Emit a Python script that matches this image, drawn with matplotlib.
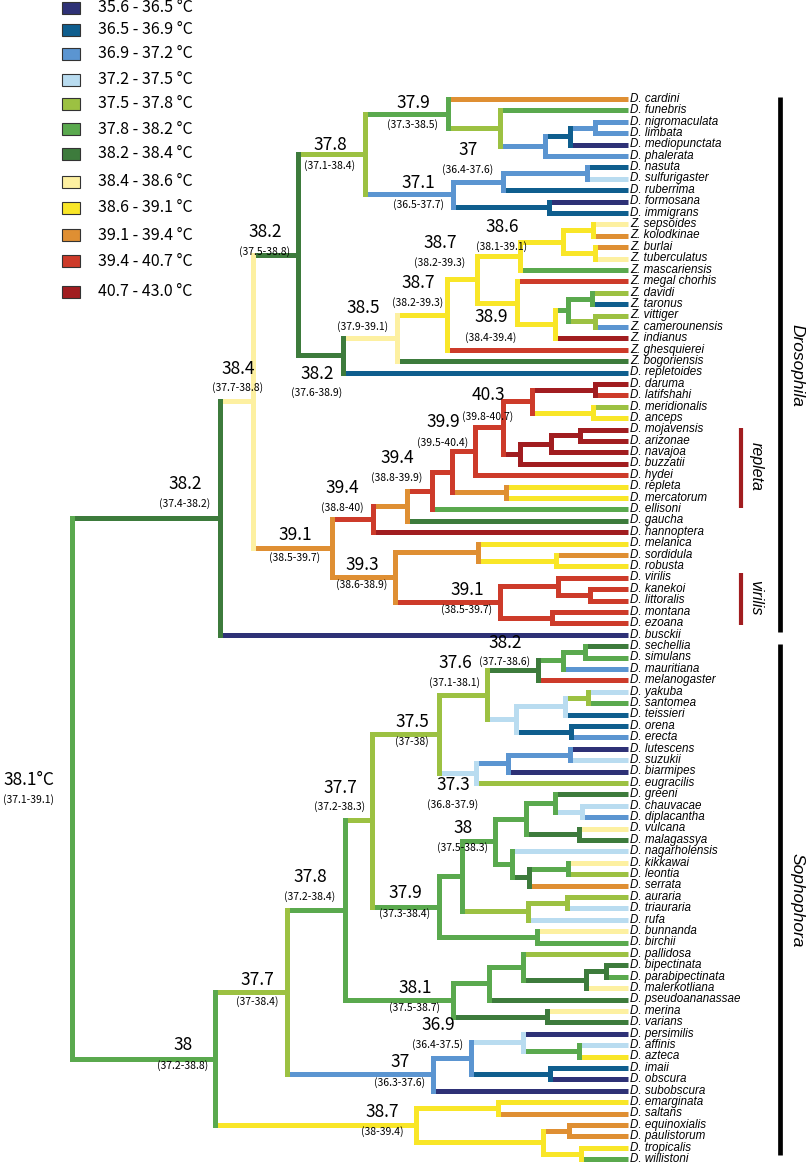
import matplotlib
matplotlib.use("Agg")
import matplotlib.pyplot as plt
from matplotlib.patches import Rectangle

# ---- temperature classes (legend) ----
class_labels = ["35.6 - 36.5 °C", "36.5 - 36.9 °C", "36.9 - 37.2 °C", "37.2 - 37.5 °C",
                "37.5 - 37.8 °C", "37.8 - 38.2 °C", "38.2 - 38.4 °C", "38.4 - 38.6 °C",
                "38.6 - 39.1 °C", "39.1 - 39.4 °C", "39.4 - 40.7 °C", "40.7 - 43.0 °C"]
class_colors = ["#2e3176", "#0f5e8e", "#5b95d1", "#b9dcf0", "#9cc142", "#5aa94e",
                "#3d7b3c", "#fdf0a1", "#f9e628", "#df8f33", "#cd3b2a", "#a11d20"]

# ---- tips (top to bottom) and their class ----
tip_names = ["D. cardini", "D. funebris", "D. nigromaculata", "D. limbata", "D. mediopunctata",
             "D. phalerata", "D. nasuta", "D. sulfurigaster", "D. ruberrima", "D. formosana",
             "D. immigrans", "Z. sepsoides", "Z. kolodkinae", "Z. burlai", "Z. tuberculatus",
             "Z. mascariensis", "Z. megal chorhis", "Z. davidi", "Z. taronus", "Z. vittiger",
             "Z. camerounensis", "Z. indianus", "Z. ghesquierei", "Z. bogoriensis", "D. repletoides",
             "D. daruma", "D. latifshahi", "D. meridionalis", "D. anceps", "D. mojavensis",
             "D. arizonae", "D. navajoa", "D. buzzatii", "D. hydei", "D. repleta",
             "D. mercatorum", "D. ellisoni", "D. gaucha", "D. hannoptera", "D. melanica",
             "D. sordidula", "D. robusta", "D. virilis", "D. kanekoi", "D. littoralis",
             "D. montana", "D. ezoana", "D. busckii", "D. sechellia", "D. simulans",
             "D. mauritiana", "D. melanogaster", "D. yakuba", "D. santomea", "D. teissieri",
             "D. orena", "D. erecta", "D. lutescens", "D. suzukii", "D. biarmipes",
             "D. eugracilis", "D. greeni", "D. chauvacae", "D. diplacantha", "D. vulcana",
             "D. malagassya", "D. nagarholensis", "D. kikkawai", "D. leontia", "D. serrata",
             "D. auraria", "D. triauraria", "D. rufa", "D. bunnanda", "D. birchii",
             "D. pallidosa", "D. bipectinata", "D. parabipectinata", "D. malerkotliana",
             "D. pseudoananassae", "D. merina", "D. varians", "D. persimilis", "D. affinis",
             "D. azteca", "D. imaii", "D. obscura", "D. subobscura", "D. emarginata",
             "D. saltans", "D. equinoxialis", "D. paulistorum", "D. tropicalis", "D. willistoni"]
tip_class = [9, 5, 2, 2, 0, 2, 1, 3, 1, 0, 1, 7, 9, 9, 7, 5, 10, 4, 1, 4, 2, 11, 10, 6, 1,
             11, 10, 4, 8, 11, 11, 11, 11, 10, 8, 8, 5, 6, 11, 8, 9, 8, 10, 10, 10, 10, 10, 0,
             6, 5, 2, 10, 3, 5, 1, 1, 2, 0, 3, 0, 4, 6, 3, 2, 7, 6, 3, 7, 4, 9, 4, 3, 3, 7, 5,
             4, 6, 5, 7, 6, 7, 6, 0, 3, 8, 1, 0, 0, 8, 9, 9, 9, 8, 5]

# ---- topology (newick, internal nodes named) ----
n378 = ("((cardini,(funebris,(((nigromaculata,limbata)I,mediopunctata)H,phalerata)G)F)n379,"
        "(((nasuta,sulfurigaster)L,ruberrima)J,(formosana,immigrans)K)n371)n378")
n382b = ("(((((((sepsoides,kolodkinae)zs1,(burlai,tuberculatus)zs2)zs,mascariensis)n386,"
         "(megal_chorhis,(((davidi,taronus)zd1,(vittiger,camerounensis)zd2)zd,indianus)ze)n389)n387a,"
         "ghesquierei)n387b,bogoriensis)n385,repletoides)n382b")
clade_T = ("((((((((daruma,latifshahi)m1,(meridionalis,anceps)m2)M,"
           "(((mojavensis,arizonae)n2,navajoa)n1,buzzatii)N)n403,hydei)n399,"
           "(repleta,mercatorum)Q)P,ellisoni)R,gaucha)S,hannoptera)T")
n393 = ("((melanica,(sordidula,robusta)W)U,"
        "((virilis,(kanekoi,littoralis)Y)X,(montana,ezoana)Z)V)n393")
n382c = f"((({n378},{n382b})n382a,({clade_T},{n393})n391)n384,busckii)n382c"

n376 = ("((((sechellia,simulans)s1,mauritiana)s2,melanogaster)n382d,"
        "(((yakuba,santomea)AD,teissieri)AB,(orena,erecta)AC)AA)n376")
n373 = "(((lutescens,suzukii)AF,biarmipes)AE,eugracilis)n373"
AH = ("(((greeni,(chauvacae,diplacantha)AM)AL,(vulcana,malagassya)AN)AJ,"
      "(nagarholensis,((kikkawai,leontia)AP,serrata)AO)AK)AH")
AI = "((auraria,triauraria)AQ,rufa)AI"
n379b = f"(({AH},{AI})n380,(bunnanda,birchii)AG)n379b"
n381 = ("(((pallidosa,((bipectinata,parabipectinata)BE,malerkotliana)BD)BC,pseudoananassae)BA,"
        "(merina,varians)BB)n381")
n370 = "(((persimilis,(affinis,azteca)CB)CA,(imaii,obscura)CC)n369,subobscura)n370"
n387c = "((emarginata,saltans)DA,((equinoxialis,paulistorum)DC,(tropicalis,willistoni)DD)DB)n387c"
n380b = f"((((({n376},{n373})n375,{n379b})n377a,{n381})n378b,{n370})n377b,{n387c})n380b"
newick = f"({n382c},{n380b})root;"

# depth of each internal node (pixels from the left)
node_x = {"root": 72, "n382c": 220, "n384": 253, "n382a": 298, "n378": 365, "n379": 448,
          "F": 500, "G": 545, "H": 570, "I": 595, "n371": 453, "J": 503, "L": 587, "K": 549,
          "n382b": 343, "n385": 397, "n387b": 447, "n387a": 477, "n386": 520, "zs": 563,
          "zs1": 593, "zs2": 595, "n389": 517, "ze": 555, "zd": 568, "zd1": 592, "zd2": 595,
          "n391": 332, "T": 373, "S": 407, "R": 432, "P": 452, "Q": 506, "n399": 475,
          "n403": 503, "M": 532, "m1": 595, "m2": 593, "N": 520, "n1": 551, "n2": 580,
          "n393": 395, "U": 478, "W": 556, "V": 500, "X": 558, "Y": 590, "Z": 552,
          "n380b": 215, "n377b": 287, "n378b": 345, "n377a": 372, "n375": 439, "n376": 487,
          "n382d": 538, "s2": 563, "s1": 585, "AA": 516, "AB": 565, "AD": 588, "AC": 571,
          "n373": 476, "AE": 508, "AF": 570, "n379b": 439, "n380": 462, "AH": 495, "AJ": 526,
          "AL": 555, "AM": 582, "AN": 579, "AK": 512, "AO": 529, "AP": 568, "AI": 528,
          "AQ": 567, "AG": 537, "n381": 453, "BA": 489, "BC": 523, "BD": 586, "BE": 606,
          "BB": 547, "n370": 433, "n369": 471, "CA": 523, "CB": 579, "CC": 550,
          "n387c": 416, "DA": 498, "DB": 543, "DC": 569, "DD": 581}

# reconstructed class of each internal node
node_class = {"root": 5, "n382c": 6, "n384": 7, "n382a": 6, "n378": 4, "n379": 5, "F": 4,
              "G": 2, "H": 1, "I": 2, "n371": 2, "J": 2, "L": 2, "K": 1, "n382b": 6,
              "n385": 7, "n387b": 8, "n387a": 8, "n386": 8, "zs": 8, "zs1": 8, "zs2": 8,
              "n389": 8, "ze": 8, "zd": 5, "zd1": 5, "zd2": 4, "n391": 9, "T": 10, "S": 9,
              "R": 10, "P": 10, "Q": 9, "n399": 10, "n403": 10, "M": 10, "m1": 11, "m2": 8,
              "N": 11, "n1": 11, "n2": 11, "n393": 9, "U": 9, "W": 8, "V": 10, "X": 10,
              "Y": 10, "Z": 10, "n380b": 5, "n377b": 4, "n378b": 5, "n377a": 4, "n375": 4,
              "n376": 4, "n382d": 6, "s2": 5, "s1": 5, "AA": 3, "AB": 3, "AD": 4, "AC": 1,
              "n373": 3, "AE": 2, "AF": 2, "n379b": 5, "n380": 5, "AH": 5, "AJ": 5, "AL": 5,
              "AM": 3, "AN": 6, "AK": 5, "AO": 6, "AP": 5, "AI": 4, "AQ": 4, "AG": 5,
              "n381": 5, "BA": 5, "BC": 5, "BD": 6, "BE": 6, "BB": 6, "n370": 2, "n369": 2,
              "CA": 3, "CB": 5, "CC": 1, "n387c": 8, "DA": 8, "DB": 8, "DC": 9, "DD": 8}

# ancestral estimates (value, interval)
node_value = {"n379": "37.9", "n378": "37.8", "G": "37", "n371": "37.1", "n386": "38.6",
              "n387a": "38.7", "n387b": "38.7", "n385": "38.5", "n389": "38.9", "n382b": "38.2",
              "n382a": "38.2", "n384": "38.4", "n382c": "38.2", "n403": "40.3", "n399": "39.9",
              "P": "39.4", "T": "39.4", "n391": "39.1", "n393": "39.3", "V": "39.1",
              "n382d": "38.2", "n376": "37.6", "n375": "37.5", "n373": "37.3", "n377a": "37.7",
              "n380": "38", "n379b": "37.9", "n378b": "37.8", "n381": "38.1", "n369": "36.9",
              "n370": "37", "n377b": "37.7", "n387c": "38.7", "n380b": "38", "root": "38.1°C"}
node_ci = {"n379": "(37.3-38.5)", "n378": "(37.1-38.4)", "G": "(36.4-37.6)", "n371": "(36.5-37.7)",
           "n386": "(38.1-39.1)", "n387a": "(38.2-39.3)", "n387b": "(38.2-39.3)",
           "n385": "(37.9-39.1)", "n389": "(38.4-39.4)", "n382b": "(37.6-38.9)",
           "n382a": "(37.5-38.8)", "n384": "(37.7-38.8)", "n382c": "(37.4-38.2)",
           "n403": "(39.8-40.7)", "n399": "(39.5-40.4)", "P": "(38.8-39.9)", "T": "(38.8-40)",
           "n391": "(38.5-39.7)", "n393": "(38.6-38.9)", "V": "(38.5-39.7)",
           "n382d": "(37.7-38.6)", "n376": "(37.1-38.1)", "n375": "(37-38)",
           "n373": "(36.8-37.9)", "n377a": "(37.2-38.3)", "n380": "(37.5-38.3)",
           "n379b": "(37.3-38.4)", "n378b": "(37.2-38.4)", "n381": "(37.5-38.7)",
           "n369": "(36.4-37.5)", "n370": "(36.3-37.6)", "n377b": "(37-38.4)",
           "n387c": "(38-39.4)", "n380b": "(37.2-38.8)", "root": "(37.1-39.1)"}

# ---- layout ----
label_pos = {"n379": (413, 103, 125), "n378": (330, 145, 166), "G": (468, 150, 170),
             "n371": (418, 183, 205), "n386": (502, 227, 247), "n387a": (440, 243, 263),
             "n387b": (418, 283, 303), "n385": (363, 308, 327), "n389": (491, 317, 338),
             "n382b": (317, 374, 393), "n382a": (265, 232, 252), "n384": (238, 369, 388),
             "n382c": (185, 484, 504), "n403": (488, 395, 417), "n399": (443, 422, 443),
             "P": (397, 458, 478), "T": (342, 488, 508), "n391": (295, 535, 558),
             "n393": (362, 565, 585), "V": (467, 590, 610), "n382d": (505, 643, 662),
             "n376": (455, 663, 683), "n375": (412, 722, 742), "n373": (453, 785, 805),
             "n377a": (340, 788, 807), "n380": (463, 828, 848), "n379b": (405, 893, 914),
             "n378b": (310, 877, 897), "n381": (415, 988, 1008), "n369": (438, 1025, 1045),
             "n370": (400, 1062, 1083), "n377b": (257, 980, 1002), "n387c": (382, 1112, 1132),
             "n380b": (183, 1045, 1066), "root": (29, 780, 800)}
W, H = 810, 1163
X_TIP, Y0, DY = 628, 99, 11.4
LW = 3.6
LAB_FONT = ["Noto Sans CJK JP", "DejaVu Sans"]


def parse_newick(s):
    pos = 0

    def node():
        nonlocal pos
        children = []
        if s[pos] == "(":
            pos += 1
            while True:
                children.append(node())
                if s[pos] == ",":
                    pos += 1
                else:
                    pos += 1
                    break
        start = pos
        while s[pos] not in ",();":
            pos += 1
        return s[start:pos], children

    return node()


tree = parse_newick(newick)
tip_cls = {n.split(". ", 1)[1].replace(" ", "_"): c for n, c in zip(tip_names, tip_class)}
xs, ys, cls = {}, {}, {}
order = []


def place(n):
    name, ch = n
    if not ch:
        xs[name] = X_TIP
        ys[name] = Y0 + len(order) * DY
        cls[name] = tip_cls[name]
        order.append(name)
        return
    for c in ch:
        place(c)
    xs[name] = node_x[name]
    ys[name] = (ys[ch[0][0]] + ys[ch[-1][0]]) / 2
    cls[name] = node_class[name]


place(tree)

fig = plt.figure(figsize=(W / 100, H / 100), dpi=100)
ax = fig.add_axes([0, 0, 1, 1])
ax.set_xlim(0, W)
ax.set_ylim(H, 0)
ax.axis("off")


def draw(n):
    name, ch = n
    if not ch:
        return
    for c in ch:
        cn = c[0]
        ax.plot([xs[name], xs[cn]], [ys[cn], ys[cn]], color=class_colors[cls[cn]],
                lw=LW, solid_capstyle="butt", zorder=2)
        draw(c)
    ax.plot([xs[name], xs[name]], [ys[ch[0][0]], ys[ch[-1][0]]],
            color=class_colors[cls[name]], lw=LW, solid_capstyle="projecting", zorder=3)


draw(tree)

for i, name in enumerate(tip_names):
    ax.text(X_TIP + 2, Y0 + i * DY - 0.3, name, fontsize=8.4, style="italic",
            family="Liberation Sans", va="center", ha="left", zorder=4)

for k, (lx, ly, cy) in label_pos.items():
    ax.text(lx, ly, node_value[k], fontsize=12.5, family=LAB_FONT, ha="center", va="center", zorder=5)
    ax.text(lx, cy, node_ci[k], fontsize=7.5, family=LAB_FONT, ha="center", va="center", zorder=5)

# legend
leg_y = [7.5, 30, 54, 80, 104, 129, 154, 182, 208, 235, 261, 292]
for yy, lab, col in zip(leg_y, class_labels, class_colors):
    ax.add_patch(Rectangle((62, yy - 6), 18, 12, facecolor=col, edgecolor="#333333", lw=0.8))
    ax.text(98, yy, lab, fontsize=11.5, family=LAB_FONT, va="center", ha="left")

# clade bars
ax.plot([780, 780], [97, 632], color="black", lw=3.4, solid_capstyle="butt")
ax.plot([780, 780], [644, 1155], color="black", lw=3.4, solid_capstyle="butt")
ax.text(797, 365, "Drosophila", rotation=-90, style="italic", fontsize=12.5,
        family="Liberation Sans", ha="center", va="center")
ax.text(797, 900, "Sophophora", rotation=-90, style="italic", fontsize=12.5,
        family="Liberation Sans", ha="center", va="center")
ax.plot([741, 741], [428, 508], color="#a11d20", lw=3.0, solid_capstyle="butt")
ax.plot([741, 741], [573, 625], color="#a11d20", lw=3.0, solid_capstyle="butt")
ax.text(756, 466, "repleta", rotation=-90, style="italic", fontsize=11.5,
        family="Liberation Sans", ha="center", va="center")
ax.text(756, 598, "virilis", rotation=-90, style="italic", fontsize=11.5,
        family="Liberation Sans", ha="center", va="center")

fig.savefig("out.png", dpi=100)
